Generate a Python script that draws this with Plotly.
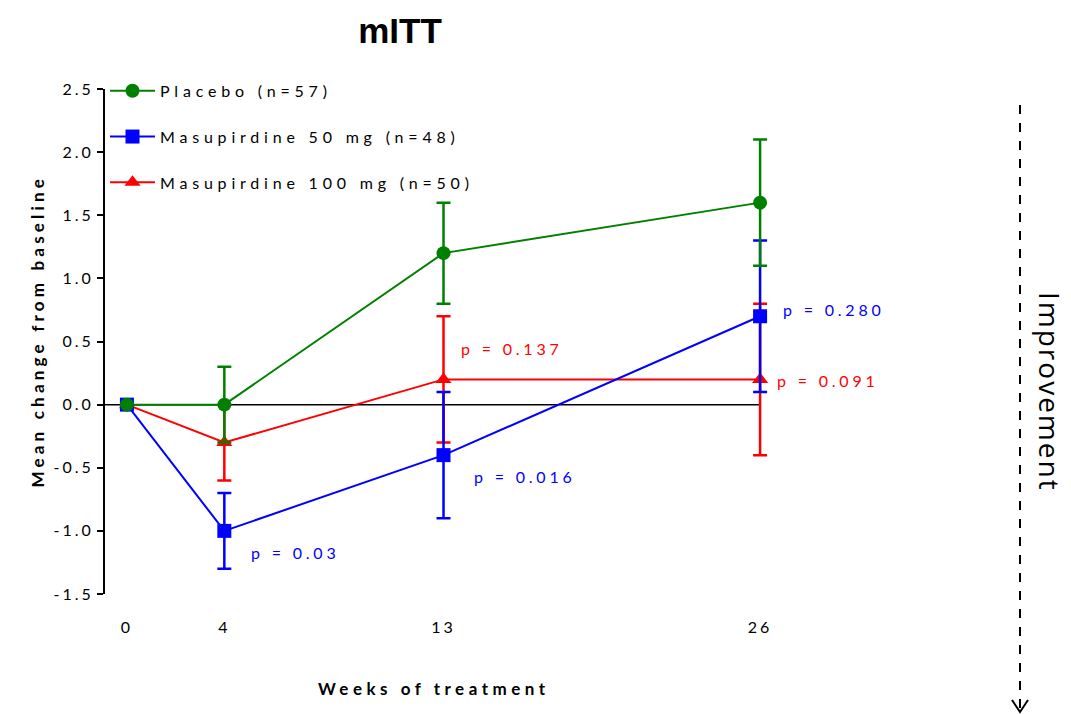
import plotly.graph_objects as go

weeks = [0, 4, 13, 26]
placebo = [0.0, 0.0, 1.2, 1.6]
placebo_err = [0.0, 0.3, 0.4, 0.5]
m50 = [0.0, -1.0, -0.4, 0.7]
m50_err = [0.0, 0.3, 0.5, 0.6]
m100 = [0.0, -0.3, 0.2, 0.2]
m100_err = [0.0, 0.3, 0.5, 0.6]

names = ["Placebo (n=57)", "Masupirdine 50 mg (n=48)", "Masupirdine 100 mg (n=50)"]
colors = ["#008000", "#0000FF", "#FF0000"]

y_ticks = [-1.5, -1.0, -0.5, 0.0, 0.5, 1.0, 1.5, 2.0, 2.5]
y_ticktext = ["-1.5", "-1.0", "-0.5", "0.0", "0.5", "1.0", "1.5", "2.0", "2.5"]

p_text = ["p = 0.03", "p = 0.016", "p = 0.137", "p = 0.280", "p = 0.091"]
p_x = [5.0, 14.17, 13.63, 26.86, 26.61]
p_y = [-1.175, -0.57, 0.445, 0.75, 0.195]
p_color = ["#0000FF", "#0000FF", "#FF0000", "#0000FF", "#FF0000"]

FONT = "Lato"
fig = go.Figure()

series = [
    (m100, m100_err, names[2], colors[2], "triangle-up", 3),
    (m50, m50_err, names[1], colors[1], "square", 2),
    (placebo, placebo_err, names[0], colors[0], "circle", 1),
]
for ys, err, name, col, sym, rank in series:
    fig.add_trace(go.Scatter(
        x=weeks, y=ys, name=name, mode="lines+markers",
        line=dict(color=col, width=2),
        marker=dict(color=col, symbol=sym, size=14),
        error_y=dict(type="data", array=err, visible=True, color=col, thickness=2.5, width=7),
        legendrank=rank, legendgroup=name, cliponaxis=False,
    ))

# zero reference line
fig.add_shape(type="line", xref="x", yref="y", x0=-0.9, x1=26, y0=0, y1=0,
              line=dict(color="black", width=1.5), layer="below")

for t, x, y, c in zip(p_text, p_x, p_y, p_color):
    fig.add_annotation(x=x, y=y, xref="x", yref="y", text=t, showarrow=False,
                       xanchor="left", yanchor="middle", align="left",
                       font=dict(family=FONT, size=16, color=c))

# y-axis title
fig.add_annotation(x=(37 - 105) / 875, y=(594 - 331) / 505, xref="paper", yref="paper",
                   text="<b>Mean change from baseline</b>", showarrow=False, textangle=-90,
                   xanchor="center", yanchor="middle",
                   font=dict(family=FONT, size=17, color="black"))

# x-axis title
fig.add_annotation(x=(316 - 105) / 875, y=-0.188, xref="paper", yref="paper",
                   text="<b>Weeks of treatment</b>", showarrow=False,
                   xanchor="left", yanchor="middle", align="left",
                   font=dict(family=FONT, size=17, color="black"))

# Improvement label and dashed arrow
fig.add_annotation(x=(1050 - 105) / 875, y=(594 - 392) / 505, xref="paper", yref="paper",
                   text="Improvement", showarrow=False, textangle=90,
                   xanchor="center", yanchor="middle",
                   font=dict(family="Open Sans", size=28, color="black"))
ax_x = (1020 - 105) / 875
fig.add_shape(type="line", xref="paper", yref="paper", x0=ax_x, x1=ax_x,
              y0=(594 - 105) / 505, y1=(594 - 711) / 505,
              line=dict(color="black", width=2, dash="dash"))
x1 = (1012 - 105) / 875
x3 = (1028 - 105) / 875
yb = (594 - 712) / 505
ya = (594 - 700) / 505
fig.add_shape(type="path", xref="paper", yref="paper",
              path=f"M {x1} {ya} L {ax_x} {yb} L {x3} {ya}",
              line=dict(color="black", width=2))

# page body has an 8px offset; margins compensate so the plot area lands where the reference has it
fig.update_layout(
    width=1071, height=714,
    paper_bgcolor="white", plot_bgcolor="white",
    margin=dict(l=97, r=99, t=81, b=128),
    title=dict(text="<b>mITT</b>", x=(400 - 105) / 875, xref="paper", xanchor="center",
               y=1 - 23 / 714, yref="container", yanchor="middle",
               font=dict(family="Liberation Sans", size=35, color="black")),
    showlegend=True,
    legend=dict(x=0.0, y=1.03, xanchor="left", yanchor="top", bgcolor="rgba(0,0,0,0)",
                font=dict(family=FONT, size=16, color="black"), tracegroupgap=22,
                itemwidth=45),
    font=dict(family=FONT, color="black"),
)
fig.update_xaxes(range=[-0.9, 35.03], tickvals=weeks, ticktext=[str(w) for w in weeks],
                 showline=False, showgrid=False, zeroline=False, ticks="",
                 ticklabelstandoff=22, tickfont=dict(family=FONT, size=16, color="black"))
fig.update_yaxes(range=[-1.5, 2.5], tickvals=y_ticks, ticktext=y_ticktext,
                 showline=True, linecolor="black", linewidth=2,
                 ticks="outside", ticklen=6, tickwidth=2, tickcolor="black",
                 showgrid=False, zeroline=False,
                 tickfont=dict(family=FONT, size=16, color="black"))

post = """
var gd = document.getElementById('{plot_id}');
function sp(nodes, v){ nodes.forEach(function(e){ e.setAttribute('letter-spacing', v); e.style.letterSpacing = v; }); }
function apply(){
  sp(gd.querySelectorAll('.legendtext'), '4.8px');
  sp(gd.querySelectorAll('.ytick text'), '3px');
  sp(gd.querySelectorAll('.xtick text'), '3px');
  gd.querySelectorAll('.legend, .legend *').forEach(function(e){ e.removeAttribute('clip-path'); });
  gd.querySelectorAll('.annotation-text').forEach(function(e){
    var t = e.textContent;
    if (t.indexOf('p =') === 0) sp([e], '3.8px');
    else if (t.indexOf('Weeks') === 0) sp([e], '4.5px');
    else if (t.indexOf('Mean') === 0) sp([e], '4.2px');
    else if (t.indexOf('Improvement') === 0) sp([e], '2px');
  });
}
apply();
gd.on('plotly_afterplot', apply);
"""

fig.write_html("out.html", post_script=post)
